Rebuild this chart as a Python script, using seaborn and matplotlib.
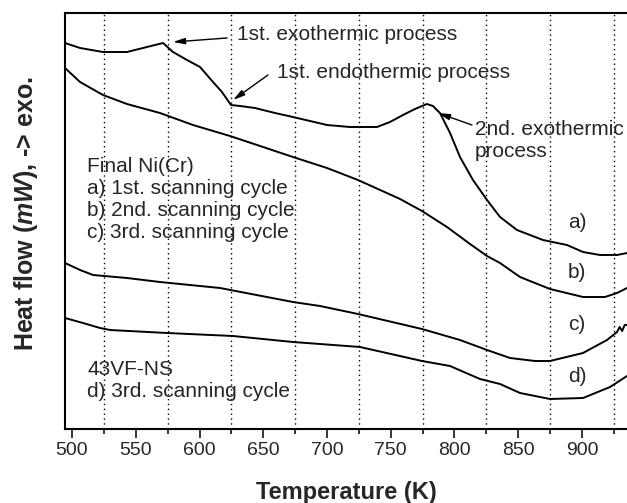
import matplotlib
matplotlib.use("Agg")
import matplotlib.pyplot as plt
import seaborn as sns
from matplotlib.ticker import MultipleLocator, FixedLocator

# DSC traces, heat flow in arbitrary units (exo up)
temp_a = [494.5, 506.3, 524.3, 543.1, 558.8, 571.4, 579.2, 590.2, 600.4, 610.6, 617.6, 624.7,
          631.8, 643.5, 659.2, 673.3, 700.0, 718.0, 739.2, 749.4, 759.6, 769.0, 778.4, 783.1,
          788.6, 796.5, 804.3, 814.5, 825.5, 835.7, 849.0, 869.4, 888.2, 900.8, 914.1, 927.5, 935.3]
flow_a = [386, 381, 377, 377, 382, 386, 377, 369, 362, 347, 337, 324,
          323, 321, 316, 312, 304, 302, 302, 307, 314, 320, 325, 323,
          316, 296, 272, 249, 229, 212, 199, 189, 184, 177, 174, 174, 176]

temp_b = [494.5, 506.3, 524.3, 543.1, 569.0, 594.9, 623.9, 647.5, 673.3, 700.0, 724.3, 757.3,
          774.5, 794.1, 812.2, 825.5, 835.7, 851.4, 874.9, 900.8, 918.0, 927.5, 935.3]
flow_b = [361, 347, 334, 325, 316, 304, 293, 283, 272, 261, 249, 230,
          218, 202, 185, 173, 166, 152, 140, 132, 132, 136, 141]

temp_c = [494.5, 506.3, 516.5, 543.1, 569.0, 616.1, 673.3, 694.5, 724.3, 774.5, 804.3, 825.5,
          843.5, 863.1, 874.9, 900.8, 919.6, 927.5, 929.5, 931.5, 933.5, 935.3]
flow_c = [166, 159, 154, 151, 147, 141, 127, 123, 115, 100, 89, 79,
          71, 68, 68, 76, 89, 97, 102, 98, 104, 104]

temp_d = [494.5, 508.6, 522.0, 529.8, 574.5, 626.3, 673.3, 694.5, 725.9, 774.5, 796.5, 820.0,
          835.7, 851.4, 874.9, 900.8, 922.0, 935.3]
flow_d = [111, 106, 101, 99, 96, 93, 87, 85, 82, 68, 63, 50,
          45, 36, 30, 31, 42, 53]

curve_labels = ["a)", "b)", "c)", "d)"]
curve_label_y = [207, 156, 104, 52]
grid_temps = [525, 575, 625, 675, 725, 775, 825, 875, 925]

sns.set_style("ticks")
plt.rcParams["font.family"] = ["Liberation Sans", "DejaVu Sans"]
plt.rcParams["mathtext.fontset"] = "custom"
plt.rcParams["mathtext.it"] = "Liberation Sans:italic:bold"
plt.rcParams["mathtext.rm"] = "Liberation Sans:bold"

fig = plt.figure(figsize=(6.27, 5.03), dpi=100)
ax = fig.add_axes([65 / 627, 74 / 503, 562 / 627, 416 / 503])

for t, f in [(temp_a, flow_a), (temp_b, flow_b), (temp_c, flow_c), (temp_d, flow_d)]:
    sns.lineplot(x=t, y=f, ax=ax, color="black", lw=1.4, sort=False, estimator=None)

ax.set_xlim(494.5, 935.3)
ax.set_ylim(0, 416)
ax.xaxis.set_major_locator(MultipleLocator(50))
ax.xaxis.set_minor_locator(FixedLocator(grid_temps))
ax.set_yticks([])
ax.grid(which="minor", axis="x", color="black", lw=1, linestyle=(0, (1, 2.5)))
ax.tick_params(axis="x", which="major", direction="out", length=6.5, width=1.3, labelsize=14, pad=3)
ax.tick_params(axis="x", which="minor", direction="out", length=3.6, width=1.3)
for s in ["left", "top", "bottom"]:
    ax.spines[s].set_linewidth(1.5)
    ax.spines[s].set_color("black")
ax.spines["right"].set_visible(False)

ax.set_xlabel("Temperature (K)", fontsize=17, fontweight="bold")
ax.xaxis.set_label_coords(0.5, -0.125)
ax.xaxis.label.set_verticalalignment("top")
ax.set_ylabel("Heat flow ($mW$), -> exo.", fontsize=18, fontweight="bold")
ax.yaxis.set_label_coords(-0.07, 0.517)
ax.yaxis.label.set_verticalalignment("center")

fs = 15
ax.text(511.8, 230, "Final Ni(Cr)\na) 1st. scanning cycle\nb) 2nd. scanning cycle\nc) 3rd. scanning cycle",
        fontsize=fs, ha="left", va="center")
ax.text(511.8, 48.5, "43VF-NS\nd) 3rd. scanning cycle", fontsize=fs, ha="left", va="center")
for lab, yy in zip(curve_labels, curve_label_y):
    ax.text(896.1, yy, lab, fontsize=fs, ha="center", va="center")

arrow = dict(arrowstyle="-|>,head_length=0.7,head_width=0.18", color="black", lw=1, shrinkA=0, shrinkB=0)
ax.annotate("", xy=(579.2, 387), xytext=(621.6, 391), arrowprops=arrow)
ax.text(629.4, 394, "1st. exothermic process", fontsize=fs, ha="left", va="center")
ax.annotate("", xy=(626.3, 329), xytext=(653.7, 354), arrowprops=arrow)
ax.text(660.8, 356, "1st. endothermic process", fontsize=fs, ha="left", va="center")
ax.annotate("", xy=(787.1, 316), xytext=(813.7, 304), arrowprops=arrow)
ax.text(816.1, 288.5, "2nd. exothermic\nprocess", fontsize=fs, ha="left", va="center")

fig.savefig("out.png", dpi=100)
